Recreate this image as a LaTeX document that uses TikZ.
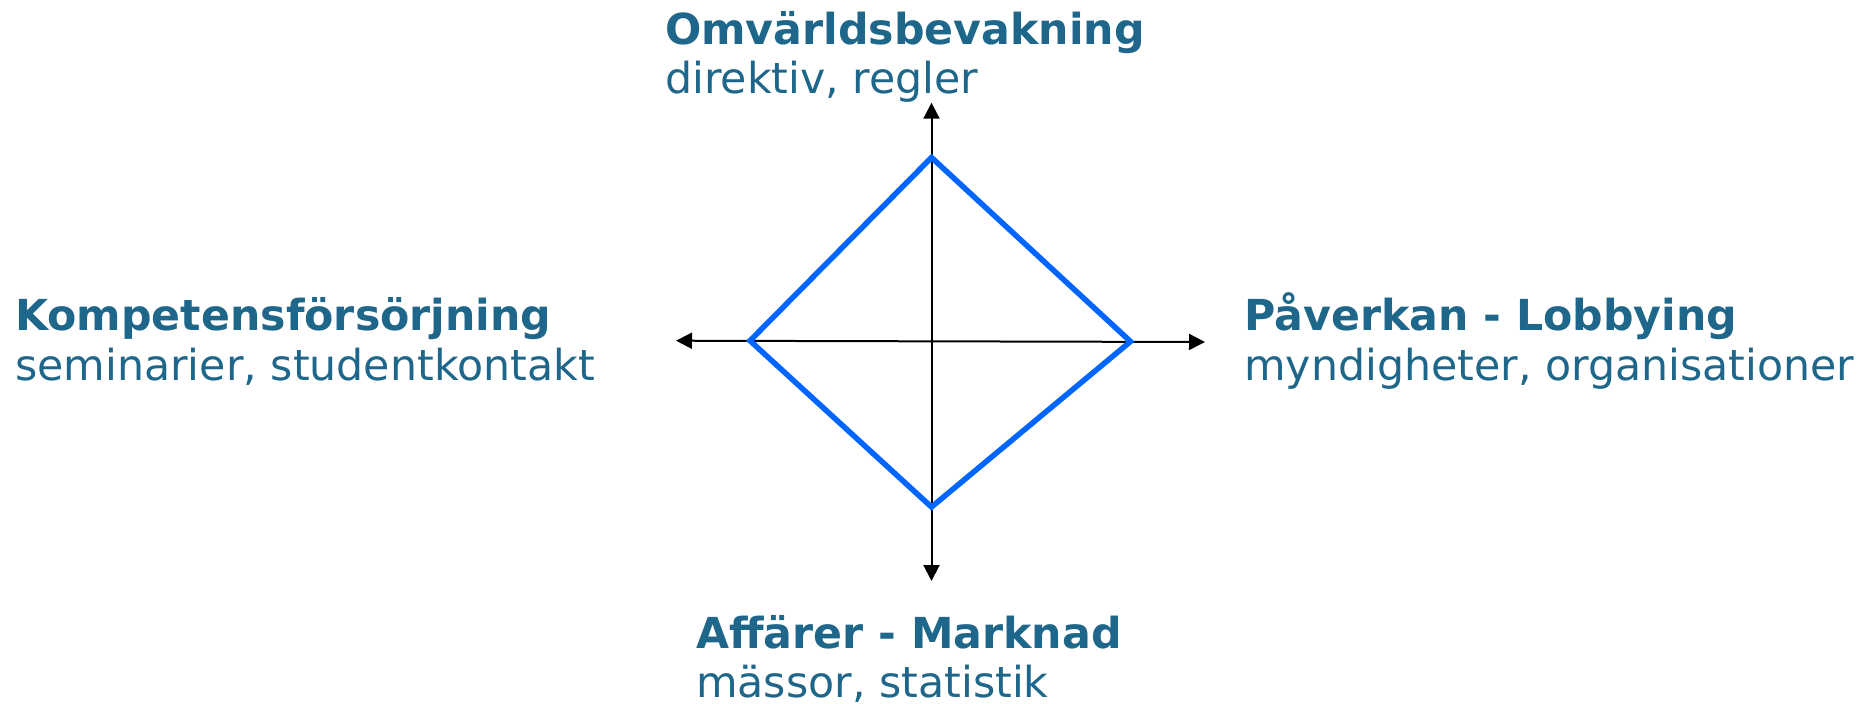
\documentclass[tikz,border=0pt]{standalone}
\usepackage{fontspec}
\setmainfont{DejaVu Sans}
\usetikzlibrary{arrows.meta}
\definecolor{txtblue}{RGB}{30,103,138}
\definecolor{diablue}{RGB}{0,102,255}
\begin{document}
\begin{tikzpicture}[x=1pt,y=-1pt,
  lbl/.style={anchor=base west,inner sep=0pt,text=txtblue,font=\fontsize{42.7}{50}\selectfont},
  ttl/.style={lbl,font=\fontsize{42.7}{50}\selectfont\bfseries},
  axis/.style={line width=2pt,black,{Triangle[length=16pt,width=16pt]}-{Triangle[length=16pt,width=16pt]}},
  dia/.style={line width=5.5pt,diablue,line join=miter}]
\useasboundingbox (0,0) rectangle (1872,704);
% axes
\coordinate (axL) at (676,340.7);
\coordinate (axR) at (1205,342);
\coordinate (axT) at (931.5,102.7);
\coordinate (axB) at (931.5,581);
\draw[axis] (axL) -- (axR);
\draw[axis] (axT) -- (axB);
% diamond
\coordinate (dT) at (931.5,157.5);
\coordinate (dR) at (1130.5,341.5);
\coordinate (dB) at (931.5,507);
\coordinate (dL) at (750,340.7);
\draw[dia] (dT) -- (dR) -- (dB) -- (dL) -- cycle;
% labels
\node[ttl] (topT) at (665,44) {Omvärldsbevakning};
\node[lbl] (topS) at (665,93.5) {direktiv, regler};
\node[ttl] (leftT) at (15,330.7) {Kompetensförsörjning};
\node[lbl] (leftS) at (15,380.7) {seminarier, studentkontakt};
\node[ttl] (rightT) at (1244,330.7) {Påverkan - Lobbying};
\node[lbl] (rightS) at (1244,380.7) {myndigheter, organisationer};
\node[ttl] (botT) at (696,648.3) {Affärer - Marknad};
\node[lbl] (botS) at (696,697.5) {mässor, statistik};
\end{tikzpicture}
\end{document}
